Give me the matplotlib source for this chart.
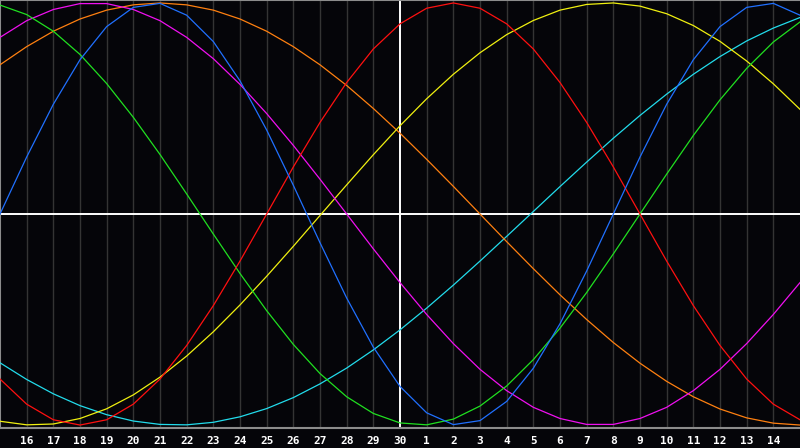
import matplotlib
matplotlib.use("Agg")
import matplotlib.pyplot as plt

# --- data: cycle values, one per day (left edge = day 15) ---
day_pos = list(range(31))
tick_pos = list(range(1, 30))
tick_labels = [str(d) for d in range(16, 31)] + [str(d) for d in range(1, 15)]
today_pos = 15

physical = [0.000, 0.270, 0.520, 0.731, 0.888, 0.979, 0.998, 0.942, 0.817, 0.631,
            0.398, 0.136, -0.136, -0.398, -0.631, -0.817, -0.942, -0.998, -0.979, -0.888,
            -0.731, -0.520, -0.270, 0.000, 0.270, 0.520, 0.731, 0.888, 0.979, 0.998, 0.942]
emotional = [-0.782, -0.901, -0.975, -1.000, -0.975, -0.901, -0.782, -0.623, -0.434, -0.223,
             0.000, 0.223, 0.434, 0.623, 0.782, 0.901, 0.975, 1.000, 0.975, 0.901,
             0.782, 0.623, 0.434, 0.223, 0.000, -0.223, -0.434, -0.623, -0.782, -0.901, -0.975]
intellectual = [0.990, 0.945, 0.866, 0.756, 0.618, 0.458, 0.282, 0.095, -0.095, -0.282,
                -0.458, -0.618, -0.756, -0.866, -0.945, -0.990, -0.999, -0.972, -0.910, -0.815,
                -0.690, -0.541, -0.372, -0.189, 0.000, 0.189, 0.372, 0.541, 0.690, 0.815, 0.910]
intuitive = [0.837, 0.916, 0.969, 0.997, 0.997, 0.969, 0.916, 0.837, 0.736, 0.614,
             0.476, 0.325, 0.165, 0.000, -0.165, -0.325, -0.476, -0.614, -0.736, -0.837,
             -0.916, -0.969, -0.997, -0.997, -0.969, -0.916, -0.837, -0.736, -0.614, -0.476, -0.325]
aesthetic = [-0.982, -0.999, -0.995, -0.969, -0.923, -0.857, -0.773, -0.673, -0.558, -0.431,
             -0.295, -0.153, -0.007, 0.138, 0.281, 0.418, 0.546, 0.662, 0.764, 0.850,
             0.917, 0.966, 0.993, 1.000, 0.985, 0.949, 0.893, 0.818, 0.725, 0.617, 0.496]
awareness = [0.707, 0.793, 0.866, 0.924, 0.966, 0.991, 1.000, 0.991, 0.966, 0.924,
             0.866, 0.793, 0.707, 0.609, 0.500, 0.383, 0.259, 0.131, 0.000, -0.131,
             -0.259, -0.383, -0.500, -0.609, -0.707, -0.793, -0.866, -0.924, -0.966, -0.991, -1.000]
spiritual = [-0.705, -0.784, -0.852, -0.908, -0.951, -0.981, -0.997, -0.999, -0.987, -0.961,
             -0.922, -0.870, -0.805, -0.730, -0.644, -0.549, -0.446, -0.337, -0.223, -0.106,
             0.012, 0.130, 0.246, 0.359, 0.467, 0.568, 0.662, 0.746, 0.820, 0.881, 0.931]

series = [
    (spiritual, "#22dcec"),
    (awareness, "#ff8010"),
    (aesthetic, "#f0f010"),
    (intuitive, "#f010f0"),
    (intellectual, "#20e020"),
    (emotional, "#ff1010"),
    (physical, "#2070ff"),
]

# --- plot ---
BG = "#050509"
fig = plt.figure(figsize=(8.0, 4.48), dpi=100, facecolor=BG)
ax = fig.add_axes([0, 20 / 448, 1, 428 / 448], facecolor=BG)

for p in tick_pos:
    if p != today_pos:
        ax.axvline(p, color="#343434", lw=1.0, zorder=1)
ax.axvline(today_pos, color="white", lw=1.4, zorder=2)
ax.axhline(0, color="white", lw=1.4, zorder=2)

for vals, col in series:
    ax.plot(day_pos, vals, color=col, lw=0.9, zorder=3)

ax.set_xlim(0, 30)
ax.set_ylim(-1.014, 1.014)
ax.set_yticks([])
ax.set_xticks(tick_pos)
ax.set_xticklabels(tick_labels, color="white", fontsize=8, fontweight="bold",
                   family="DejaVu Sans Mono")
ax.tick_params(axis="x", length=0, pad=6)

for s in ["left", "top", "bottom"]:
    ax.spines[s].set_color("#8c8c8c")
    ax.spines[s].set_linewidth(1.5)
ax.spines["right"].set_visible(False)

fig.savefig("out.png", dpi=100, facecolor=BG)
